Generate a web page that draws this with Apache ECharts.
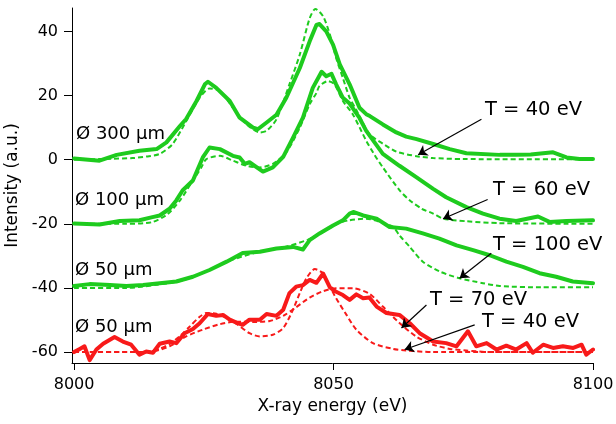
<!DOCTYPE html>
<html>
<head>
<meta charset="utf-8">
<script src="https://cdn.jsdelivr.net/npm/echarts@6/dist/echarts.min.js"></script>
<style>
  html, body { margin: 0; padding: 0; background: #fff; }
  #chart { width: 616px; height: 424px; }
</style>
</head>
<body>
<div id="chart"></div>
<script>
// energy (eV), intensity (a.u.) pairs
const solid300 = [[8000,0.4],[8004.9,-0.3],[8008.2,1.5],[8012.6,2.8],[8015.9,3.3],[8017.8,5.4],[8020.4,10.5],[8021.6,12.7],[8023.6,18.3],[8025.2,23.5],[8025.8,24.3],[8027.4,22.4],[8030.0,18.3],[8031.9,13.1],[8034.5,10.0],[8035.4,9.5],[8037.1,11.6],[8039.0,14.0],[8040.9,19.3],[8043.5,28.6],[8045.4,36.9],[8046.7,42.0],[8047.3,42.3],[8048.6,40],[8049.9,35.9],[8051.2,29.7],[8053.1,23.5],[8055.0,16.2],[8056.3,14.2],[8057.0,13.6],[8059.5,11],[8062.1,8.5],[8064.0,7.2],[8066.0,6.4],[8069.2,4.9],[8072.4,3.3],[8075.6,2.0],[8082.0,1.5],[8085.2,1.5],[8088,1.6],[8092.3,2.3],[8094.9,0.7],[8097.4,0.2],[8100,0.2]];
const fit300 = [[8000,0],[8007.4,0.3],[8011.3,0.5],[8014,1],[8016.5,1.8],[8019.0,4.9],[8021.6,12],[8024.2,19.3],[8026.1,22.2],[8028.1,21.4],[8030.6,16.2],[8033.2,11.1],[8035.8,8.5],[8037.1,9],[8039.0,12.6],[8041.5,23.5],[8043.5,32.8],[8045.4,44.1],[8046.5,47],[8048.0,44.7],[8049.3,39],[8050.5,31.7],[8051.8,25.5],[8053.1,19.3],[8054.4,15.5],[8056.9,8],[8059.5,5],[8062.1,2.5],[8066.0,1.1],[8069.2,0.5],[8075,0.2],[8100,0.1]];

const solid100 = [[8000,-19.9],[8004.9,-20.2],[8008.8,-19.1],[8012.6,-18.9],[8015.1,-17.9],[8016.5,-17.4],[8018.4,-15.3],[8019.7,-12.7],[8020.9,-9.6],[8022.9,-6.5],[8024.8,0.7],[8026.1,3.8],[8028.1,3.3],[8030.6,1.2],[8031.9,0.7],[8032.9,-1.3],[8033.8,-0.8],[8036.4,-3.7],[8038.3,-2.4],[8040.3,0.9],[8042.2,6.9],[8044.1,13.1],[8046.0,22.4],[8047.7,27.4],[8048.6,26],[8049.6,26.8],[8050.5,23.5],[8051.8,19.3],[8053.1,17.5],[8055.0,13],[8056.3,9],[8059.5,1.8],[8062.7,-1.9],[8066.0,-5.5],[8069.2,-9.1],[8071.7,-11.7],[8075.6,-14.8],[8078.8,-16.8],[8082.0,-18.4],[8085.2,-19.1],[8089.4,-17.7],[8091.6,-19.4],[8094.9,-19.1],[8100,-18.9]];
const fit100 = [[8000,-20],[8010,-20],[8015,-19.5],[8018,-17],[8020.5,-12.5],[8022.5,-7.5],[8024.5,-2.5],[8025.5,0.2],[8028.1,1.2],[8030.6,-0.3],[8033.2,-1.9],[8035.8,-2.4],[8038.3,-1.3],[8040.9,2.3],[8043.5,10],[8045.4,17.3],[8046.7,20.8],[8047.3,23],[8048.9,24.5],[8050.2,23.5],[8051.8,18.3],[8053.7,14.2],[8056.3,5.9],[8057.9,1.5],[8059.5,-2.4],[8062.7,-9.5],[8064.7,-12.7],[8067,-15.3],[8069.2,-16.8],[8071.1,-18.4],[8075.6,-19.2],[8082.0,-19.8],[8100,-20]];

const solid50 = [[8000,-39.4],[8003.0,-38.8],[8006.9,-39.1],[8010.1,-39.4],[8013.3,-39.1],[8016.5,-38.5],[8019.7,-38],[8022.9,-36.5],[8026.1,-34.4],[8029.4,-31.8],[8032.5,-29.1],[8035.8,-28.7],[8039.0,-27.7],[8042.2,-27.2],[8044.1,-28],[8045.4,-25.1],[8047.3,-23],[8049.9,-20.5],[8051.8,-18.9],[8053.1,-16.8],[8053.8,-16.3],[8055.7,-17.4],[8058.3,-18.4],[8060.8,-21],[8064.0,-21.5],[8067.2,-23],[8070.4,-24.6],[8073.7,-26.7],[8076.9,-28.2],[8080.1,-29.8],[8083.3,-31.8],[8086.5,-33.4],[8089.7,-35.4],[8092.9,-36.5],[8096.1,-38],[8100,-38.5]];
const fit50 = [[8000,-40],[8010,-40],[8016,-39],[8020,-38],[8023,-36.5],[8026,-34.5],[8030,-31.5],[8035,-29],[8040,-27.5],[8045,-25],[8048,-22.5],[8051,-19.8],[8053,-18.9],[8056.3,-18.4],[8058.9,-19.4],[8061.5,-21],[8062.7,-23.6],[8064.7,-27.2],[8067.2,-31.8],[8070.5,-34.9],[8074.3,-37],[8078.8,-38.5],[8082,-39.4],[8090,-39.8],[8100,-39.8]];

const solidRed = [[8000,-60],[8001.1,-59],[8002.0,-58.2],[8003.0,-62.5],[8004.3,-59.2],[8005.6,-57.4],[8007.8,-55.3],[8009.4,-56.7],[8011.0,-57.7],[8012.6,-60.8],[8013.9,-59.8],[8015.2,-60.2],[8016.5,-57.4],[8018.4,-56.7],[8019.7,-57.2],[8021.3,-54.1],[8022.9,-52.8],[8024.2,-51],[8025.8,-48.1],[8027.4,-48.7],[8028.7,-48.4],[8030.0,-49.9],[8031.3,-50.8],[8032.5,-51.5],[8033.8,-49.9],[8035.8,-49.9],[8037.1,-48.1],[8039.0,-48.7],[8040.3,-46.8],[8041.5,-41.6],[8042.8,-39.6],[8044.1,-39.1],[8045.4,-37.5],[8046.7,-38.4],[8048.0,-35.5],[8049.3,-39.8],[8050.5,-41.2],[8051.8,-42.2],[8053.1,-43.7],[8054.4,-42],[8055.7,-43.2],[8056.9,-43],[8058.3,-45.8],[8060.2,-47.8],[8062.7,-48.4],[8064.7,-51],[8066.6,-54.1],[8069.2,-56.7],[8071.7,-57.2],[8073.7,-58.2],[8075.9,-53.5],[8077.5,-58.2],[8079.5,-57.2],[8081.4,-59.2],[8083.3,-58],[8085.2,-59.2],[8087.2,-57.2],[8088.4,-60.2],[8090.4,-57.7],[8092.3,-58.7],[8094.2,-58.2],[8096.2,-58.7],[8097.8,-57.7],[8098.7,-60.8],[8100,-59.2]];
const fitRed70 = [[8000,-60],[8013.9,-60],[8016,-59.5],[8018.4,-58.2],[8021.6,-55.1],[8024.8,-53],[8028.1,-51.3],[8031.3,-50.5],[8034.5,-50.6],[8037.7,-50.3],[8040.3,-48.7],[8042.8,-46],[8045.4,-43],[8048,-41],[8050.5,-40.1],[8053.7,-40.1],[8056.9,-41.8],[8059.5,-45.8],[8062.7,-50.9],[8065.9,-55.1],[8069.2,-57.7],[8072.4,-59],[8075.6,-59.5],[8080,-60],[8100,-60]];
const fitRed40 = [[8000,-60],[8014.6,-60],[8016.5,-59],[8018.4,-57.5],[8020.4,-55],[8022.3,-52],[8024.2,-49],[8025.5,-47.8],[8027.4,-48],[8029.4,-49.4],[8031.3,-51.2],[8033.8,-54.1],[8035.8,-55.1],[8038.3,-54.6],[8040.3,-52.5],[8041.9,-47.8],[8043.5,-41.6],[8044.8,-36.9],[8046.4,-34.1],[8048.0,-35.5],[8049.3,-39.6],[8050.5,-43.2],[8052.5,-48.4],[8054.4,-53],[8057.6,-57.2],[8061.5,-59],[8064.0,-59.5],[8069.1,-60],[8100,-60]];

const xTicks = [8000, 8050, 8100];
const yTicks = [-60, -40, -20, 0, 20, 40];

// annotation arrows: [label-end, curve-end] in data units
const arrows = [
  [[8078.5, 12.6], [8066.3, 1.55]],
  [[8079.7, -12.4], [8071.1, -18.4]],
  [[8080.4, -29.2], [8074.3, -37.0]],
  [[8067.9, -45.3], [8063.1, -52.5]],
  [[8077.2, -51.5], [8063.7, -59.2]]
];

const green = '#1ecb1e';
const red = '#f81a1a';
const FONT = 'DejaVu Sans';

function solid(name, data, color) {
  return {
    name: name, type: 'line', data: data, symbol: 'none', z: 3,
    lineStyle: { color: color, width: 4, join: 'round', cap: 'round' }
  };
}
function dashed(name, data, color) {
  return {
    name: name, type: 'line', data: data, symbol: 'none', smooth: 0.25, z: 4,
    lineStyle: { color: color, width: 2, type: [5, 3] }
  };
}

function label(text, x, y, size) {
  return {
    type: 'text', x: x, y: y, silent: true,
    style: { text: text, fill: '#000', fontSize: size, fontFamily: FONT, verticalAlign: 'middle', align: 'left' }
  };
}

const chart = echarts.init(document.getElementById('chart'), null, { renderer: 'canvas' });

const arrowSeries = {
  type: 'line', data: [], symbol: 'none', silent: true,
  markLine: {
    silent: true, animation: false,
    symbol: ['none', 'arrow'], symbolSize: 9,
    label: { show: false },
    lineStyle: { color: '#000', width: 1.2, type: 'solid' },
    emphasis: { disabled: true },
    data: arrows.map(function (a) {
      return [{ coord: a[0] }, { coord: a[1] }];
    })
  }
};

chart.setOption({
  animation: false,
  backgroundColor: '#fff',
  textStyle: { fontFamily: FONT },
  grid: { left: 72, right: 23, top: 8, bottom: 61, containLabel: false, outerBoundsMode: 'none' },
  xAxis: {
    type: 'value', min: 7999.6, max: 8100,
    name: 'X-ray energy (eV)', nameLocation: 'middle', nameGap: 33,
    nameTextStyle: { color: '#000', fontSize: 17, fontFamily: FONT },
    axisLine: { show: true, onZero: false, lineStyle: { color: '#000', width: 1 } },
    axisTick: { show: true, inside: false, length: 7, customValues: xTicks, lineStyle: { color: '#000', width: 1 } },
    axisLabel: { customValues: xTicks, color: '#000', fontSize: 16, fontFamily: FONT, margin: 14,
      formatter: function (v) { return String(v); } },
    splitLine: { show: false }
  },
  yAxis: {
    type: 'value', min: -63.4, max: 47.3,
    name: 'Intensity (a.u.)', nameLocation: 'middle', nameGap: 42,
    nameTextStyle: { color: '#000', fontSize: 17, fontFamily: FONT },
    axisLine: { show: true, onZero: false, lineStyle: { color: '#000', width: 1 } },
    axisTick: { show: true, inside: false, length: 8, customValues: yTicks, lineStyle: { color: '#000', width: 1 } },
    axisLabel: { customValues: yTicks, color: '#000', fontSize: 16, fontFamily: FONT, margin: 14,
      formatter: function (v) { return String(v); } },
    splitLine: { show: false }
  },
  series: [
    dashed('fit 300', fit300, green),
    solid('Ø 300 µm', solid300, green),
    dashed('fit 100', fit100, green),
    solid('Ø 100 µm', solid100, green),
    dashed('fit 50', fit50, green),
    solid('Ø 50 µm', solid50, green),
    dashed('fit red 70', fitRed70, red),
    dashed('fit red 40', fitRed40, red),
    solid('Ø 50 µm red', solidRed, red),
    arrowSeries
  ],
  graphic: [
    label('Ø 300 µm', 76, 134, 18),
    label('Ø 100 µm', 75, 200.5, 18),
    label('Ø 50 µm', 75, 270, 18),
    label('Ø 50 µm', 75, 327, 18),
    label('T = 40 eV', 485, 110, 19.5),
    label('T = 60 eV', 493, 189.5, 19.5),
    label('T = 100 eV', 493, 244.5, 19.5),
    label('T = 70 eV', 430, 299.5, 19.5),
    label('T = 40 eV', 482, 321.5, 19.5)
  ]
});
</script>
</body>
</html>
